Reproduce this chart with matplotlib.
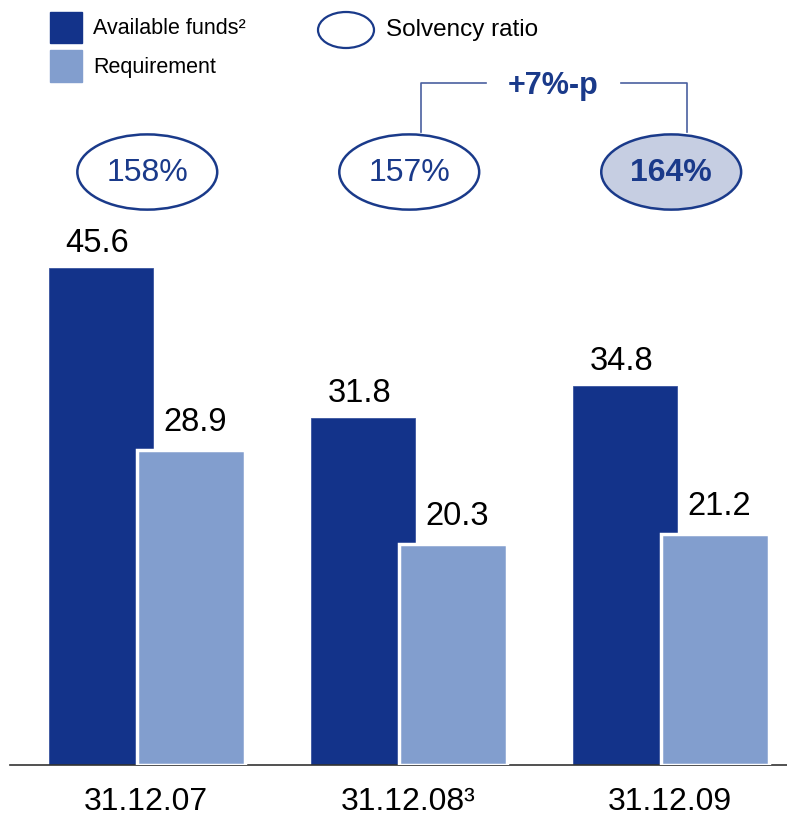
import matplotlib.pyplot as plt
from matplotlib.patches import Ellipse, Rectangle

plt.rcParams['font.family'] = ['Liberation Sans', 'DejaVu Sans']

dates = ['31.12.07', '31.12.08\u00b3', '31.12.09']
available = [45.6, 31.8, 34.8]
requirement = [28.9, 20.3, 21.2]
ratios = ['158%', '157%', '164%']

dark = '#13338A'
light = '#829ECE'
navy = '#1A3A8A'

fig = plt.figure(figsize=(7.87, 8.17), dpi=100)
ax = fig.add_axes([10 / 787, 52 / 817, 777 / 787, 765 / 817])
ax.set_xlim(-0.519, 2.447)
ax.set_ylim(0, 70.18)

x = list(range(len(dates)))
ax.bar([i - 0.170 for i in x], available, width=0.397, color=dark,
       edgecolor='#3a55a0', linewidth=0.6, zorder=2)
ax.bar([i + 0.172 for i in x], requirement, width=0.41, color=light,
       edgecolor='white', linewidth=2.5, zorder=3)

for i in x:
    ax.annotate(f'{available[i]:.1f}', (i - 0.170, available[i]), xytext=(-3, 11.5),
                textcoords='offset points', ha='center', va='baseline', fontsize=23.5)
    ax.annotate(f'{requirement[i]:.1f}', (i + 0.172, requirement[i]), xytext=(3, 13.5),
                textcoords='offset points', ha='center', va='baseline', fontsize=23.5)

# solvency ratio ellipses
for i, r in enumerate(ratios):
    last = i == len(ratios) - 1
    ax.add_patch(Ellipse((i + 0.005, 54.4), 0.534, 6.9, facecolor='#C6CEE2' if last else 'white',
                         edgecolor=navy, linewidth=1.8, clip_on=False, zorder=4))
    ax.text(i + 0.005, 54.3, r, ha='center', va='center', fontsize=23, color=navy,
            fontweight='bold' if last else 'normal', zorder=5)

ax.set_xticks(x)
ax.set_xticklabels(dates, fontsize=23)
ax.tick_params(axis='x', length=0, pad=16)
ax.set_yticks([])
for s in ['top', 'left', 'right']:
    ax.spines[s].set_visible(False)
ax.spines['bottom'].set_color('#333333')
ax.spines['bottom'].set_linewidth(1.2)

# overlay in pixel coords for legend and bracket
ov = fig.add_axes([0, 0, 1, 1])
ov.set_xlim(0, 787)
ov.set_ylim(817, 0)
ov.axis('off')
ov.patch.set_alpha(0)

ov.add_patch(Rectangle((50, 12), 32, 31, color=dark))
ov.add_patch(Rectangle((50, 50), 32, 32, color=light))
ov.text(93, 28, 'Available funds\u00b2', fontsize=15.5, va='center')
ov.text(93, 67, 'Requirement', fontsize=15.5, va='center')
ov.add_patch(Ellipse((346, 30), 56, 36, facecolor='white', edgecolor=navy, linewidth=1.6))
ov.text(386, 30, 'Solvency ratio', fontsize=17.5, va='center')

bc = '#4A60A0'
ov.plot([421, 421, 486], [132, 83, 83], color=bc, linewidth=1.2)
ov.plot([621, 687, 687], [83, 83, 132], color=bc, linewidth=1.2)
ov.text(553, 86, '+7%-p', fontsize=22, fontweight='bold', color=navy, ha='center', va='center')

fig.savefig('out.png', dpi=100)
